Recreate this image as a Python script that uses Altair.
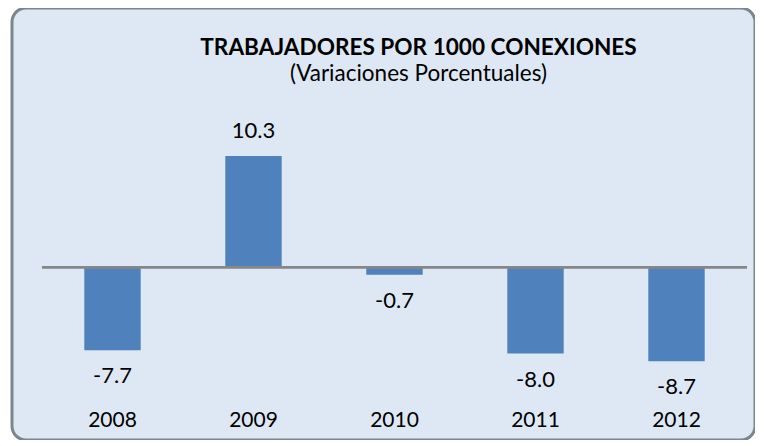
import altair as alt
import pandas as pd

years = ["2008", "2009", "2010", "2011", "2012"]
values = [-7.7, 10.3, -0.7, -8.0, -8.7]

df = pd.DataFrame({"year": years, "value": values})
df["label"] = [f"{v:.1f}" for v in values]

FONT = "Lato"
W, H = 743, 432

x_enc = alt.X(
    "year:N",
    sort=years,
    scale=alt.Scale(range=[30, 735], paddingInner=0.6, paddingOuter=0.3),
    axis=alt.Axis(
        title=None, orient="bottom", offset=-31, labelPadding=0, ticks=False,
        domain=False, labelAngle=0, labelFont=FONT, labelFontSize=21,
        labelColor="black", grid=False, labelBaseline="top",
    ),
)
y_enc = alt.Y("value:Q", scale=alt.Scale(domain=[-16, 24], nice=False), axis=None)

base = alt.Chart(df)

bars = base.mark_bar(color="#4F81BD").encode(x=x_enc, y=y_enc, y2=alt.datum(0))

zero = base.mark_rule(color="#878787", strokeWidth=2).encode(
    x=alt.value(30), x2=alt.value(735), y=alt.datum(0)
)

pos_labels = base.transform_filter(alt.datum.value >= 0).mark_text(
    font=FONT, fontSize=22, color="black", baseline="middle", dy=-25
).encode(x=alt.X("year:N", sort=years), y=alt.Y("value:Q"), text="label:N")

neg_labels = base.transform_filter(alt.datum.value < 0).mark_text(
    font=FONT, fontSize=22, color="black", baseline="middle", dy=26
).encode(x=alt.X("year:N", sort=years), y=alt.Y("value:Q"), text="label:N")

chart = alt.layer(bars, zero, pos_labels, neg_labels).properties(
    width=W,
    height=H,
    title=alt.TitleParams(
        text="TRABAJADORES POR 1000 CONEXIONES",
        subtitle="(Variaciones Porcentuales)",
        font=FONT, fontSize=22.6, fontWeight="bold", color="black",
        subtitleFont=FONT, subtitleFontSize=22.5, subtitleColor="black",
        anchor="middle", dx=35, offset=-77, subtitlePadding=3,
    ),
    autosize=alt.AutoSizeParams(type="none"),
    padding={"left": 4, "top": 0, "right": 0, "bottom": 0},
).configure_view(
    fill="#dde8f4", stroke="#7d858d", strokeWidth=3, cornerRadius=14
)

chart.save("out.html", embed_options={"renderer": "svg", "actions": False})
